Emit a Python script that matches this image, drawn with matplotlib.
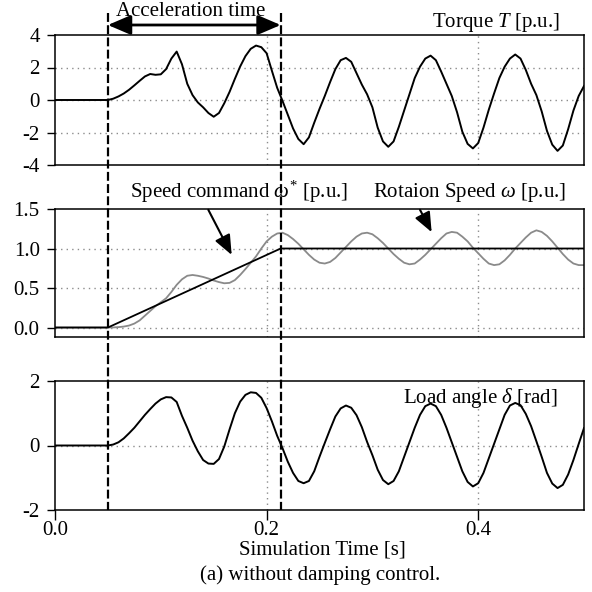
import numpy as np
import matplotlib
matplotlib.use("Agg")
import matplotlib.pyplot as plt
from matplotlib.lines import Line2D
from matplotlib.transforms import blended_transform_factory

plt.rcParams['font.family'] = 'Liberation Serif'
plt.rcParams['mathtext.fontset'] = 'custom'
plt.rcParams['mathtext.rm'] = 'Liberation Serif'
plt.rcParams['mathtext.it'] = 'Liberation Serif:italic'
plt.rcParams['font.size'] = 15
plt.rcParams['axes.unicode_minus'] = False

# samples every 5 ms from t = 0.05 s
t_acc_start = 0.05
t_acc_end = 0.2133

torque = [0.00, 0.08, 0.22, 0.40, 0.63, 0.90, 1.18, 1.45, 1.60, 1.55,
          1.58, 1.90, 2.55, 2.98, 2.20, 1.00, 0.30, -0.15, -0.45, -0.80,
          -1.03, -0.80, -0.20, 0.50, 1.30, 2.06, 2.70, 3.15, 3.35, 3.25,
          2.88, 1.80, 0.75, -0.05, -0.90, -1.75, -2.40, -2.72, -2.30, -1.40,
          -0.55, 0.25, 1.10, 1.90, 2.45, 2.59, 2.35, 1.65, 0.95, 0.35,
          -0.45, -1.70, -2.55, -2.88, -2.55, -1.65, -0.65, 0.35, 1.35, 2.05,
          2.55, 2.73, 2.45, 1.75, 1.00, 0.25, -0.75, -1.95, -2.70, -2.98,
          -2.65, -1.70, -0.60, 0.40, 1.35, 2.05, 2.55, 2.80, 2.55, 1.85,
          1.00, 0.30, -0.70, -1.90, -2.75, -3.13, -2.80, -1.80, -0.65, 0.25,
          0.86]

speed = [0.000, 0.001, 0.005, 0.012, 0.025, 0.05, 0.09, 0.15, 0.21, 0.27,
         0.32, 0.37, 0.45, 0.54, 0.61, 0.655, 0.665, 0.655, 0.64, 0.62,
         0.595, 0.575, 0.56, 0.565, 0.60, 0.665, 0.74, 0.82, 0.90, 1.00,
         1.09, 1.15, 1.19, 1.20, 1.17, 1.12, 1.06, 0.99, 0.92, 0.86,
         0.82, 0.81, 0.83, 0.88, 0.95, 1.02, 1.09, 1.15, 1.19, 1.20,
         1.18, 1.13, 1.07, 1.00, 0.93, 0.87, 0.82, 0.80, 0.81, 0.86,
         0.92, 0.99, 1.06, 1.13, 1.19, 1.21, 1.20, 1.15, 1.09, 1.01,
         0.94, 0.87, 0.81, 0.79, 0.80, 0.85, 0.92, 1.00, 1.07, 1.14,
         1.20, 1.23, 1.21, 1.16, 1.09, 1.01, 0.93, 0.86, 0.81, 0.79,
         0.79]

delta = [0.00, 0.03, 0.10, 0.22, 0.38, 0.55, 0.75, 0.95, 1.13, 1.30,
         1.43, 1.50, 1.49, 1.35, 0.92, 0.55, 0.15, -0.18, -0.45, -0.56,
         -0.57, -0.42, -0.03, 0.50, 1.00, 1.36, 1.57, 1.65, 1.63, 1.48,
         1.16, 0.75, 0.30, -0.08, -0.50, -0.85, -1.10, -1.17, -1.10, -0.80,
         -0.35, 0.08, 0.50, 0.90, 1.15, 1.24, 1.17, 0.94, 0.57, 0.11,
         -0.30, -0.75, -1.07, -1.20, -1.10, -0.80, -0.35, 0.10, 0.55, 0.95,
         1.22, 1.30, 1.22, 0.95, 0.55, 0.10, -0.35, -0.80, -1.13, -1.27,
         -1.17, -0.85, -0.40, 0.05, 0.50, 0.95, 1.24, 1.32, 1.25, 0.98,
         0.60, 0.13, -0.35, -0.85, -1.18, -1.32, -1.22, -0.90, -0.45, 0.05,
         0.54]

# speed command: ramp during acceleration, then constant
t_cmd = [0.0, t_acc_start, t_acc_end, 0.5]
speed_cmd = [0.0, 0.0, 1.0, 1.0]

t = np.concatenate(([0.0], np.round(np.arange(0.05, 0.5001, 0.005), 3)))
torque = [0.0] + torque
speed = [0.0] + speed
delta = [0.0] + delta

W = 592.0
def box(top, bottom):
    return [55/W, 1 - bottom/W, 529/W, (bottom - top)/W]

fig = plt.figure(figsize=(5.92, 5.92), dpi=100)
ax1 = fig.add_axes(box(35, 165))
ax2 = fig.add_axes(box(209, 337))
ax3 = fig.add_axes(box(381, 510))

grid_kw = dict(color='#8c8c8c', lw=1.0, ls=(0, (1, 3)))

ax1.plot(t, torque, 'k', lw=1.4)
ax1.set_ylim(-4, 4)
ax1.set_yticks([-4, -2, 0, 2, 4])
for y in [-2, 0, 2]:
    ax1.axhline(y, zorder=0, **grid_kw)

ax2.plot(t, speed, color='#8a8a8a', lw=1.3)
ax2.plot(t_cmd, speed_cmd, 'k', lw=1.3)
ax2.set_ylim(-0.12, 1.5)
ax2.set_yticks([0.0, 0.5, 1.0, 1.5])
ax2.set_yticklabels(['0.0', '0.5', '1.0', '1.5'])
for y in [0.0, 0.5, 1.0]:
    ax2.axhline(y, zorder=0, **grid_kw)

ax3.plot(t, delta, 'k', lw=1.4)
ax3.set_ylim(-2, 2)
ax3.set_yticks([-2, 0, 2])
ax3.axhline(0, zorder=0, **grid_kw)

for ax in [ax1, ax2, ax3]:
    ax.set_xlim(0, 0.5)
    ax.set_xticks([0.0, 0.2, 0.4])
    for x in [0.2, 0.4]:
        ax.axvline(x, zorder=0, **grid_kw)
    ax.tick_params(axis='y', direction='out', length=6, width=1, pad=5)
    for s in ax.spines.values():
        s.set_linewidth(1.1)
for ax in [ax1, ax2]:
    ax.tick_params(axis='x', bottom=False, labelbottom=False)
ax3.set_xticklabels(['0.0', '0.2', '0.4'])
ax3.tick_params(axis='x', direction='out', length=7, width=1, pad=1)

# dashed markers of the acceleration phase, across all panels
trans = blended_transform_factory(ax3.transData, fig.transFigure)
for x in [t_acc_start, t_acc_end]:
    fig.add_artist(Line2D([x, x], [1 - 13/W, 1 - 510/W], transform=trans,
                          color='k', lw=1.6, dashes=(4, 1.5)))

ax1.annotate('', xy=(t_acc_end, 1 - 25/W), xycoords=trans,
             xytext=(t_acc_start, 1 - 25/W), textcoords=trans,
             arrowprops=dict(arrowstyle='<|-|>,head_length=0.7,head_width=0.3',
                             mutation_scale=20, color='k', lw=2,
                             shrinkA=0, shrinkB=0),
             annotation_clip=False)
fig.text(191/W, 1 - 11/W, 'Acceleration time', ha='center', va='center')

fig.text(560/W, 1 - 23/W, 'Torque $T$ [p.u.]', ha='right', va='center')
fig.text(130/W, 1 - 192/W, r'Speed command $\omega^{*}$ [p.u.]', ha='left', va='center')
fig.text(373/W, 1 - 192/W, r'Rotaion Speed $\omega$ [p.u.]', ha='left', va='center')
fig.text(557/W, 1 - 398/W, r'Load angle $\delta$ [rad]', ha='right', va='center')

ax2.annotate('', xy=(0.167, 0.919), xytext=(0.1449, 1.49),
             arrowprops=dict(arrowstyle='-|>,head_length=0.6,head_width=0.25',
                             mutation_scale=20, color='k', lw=1.5,
                             shrinkA=0, shrinkB=0))
ax2.annotate('', xy=(0.356, 1.207), xytext=(0.345, 1.49),
             arrowprops=dict(arrowstyle='-|>,head_length=0.6,head_width=0.25',
                             mutation_scale=20, color='k', lw=1.5,
                             shrinkA=0, shrinkB=0))

fig.text(322/W, 1 - 550/W, 'Simulation Time [s]', ha='center', va='center')
fig.text(320/W, 1 - 575/W, '(a) without damping control.', ha='center', va='center')

fig.savefig('out.png', dpi=100)
